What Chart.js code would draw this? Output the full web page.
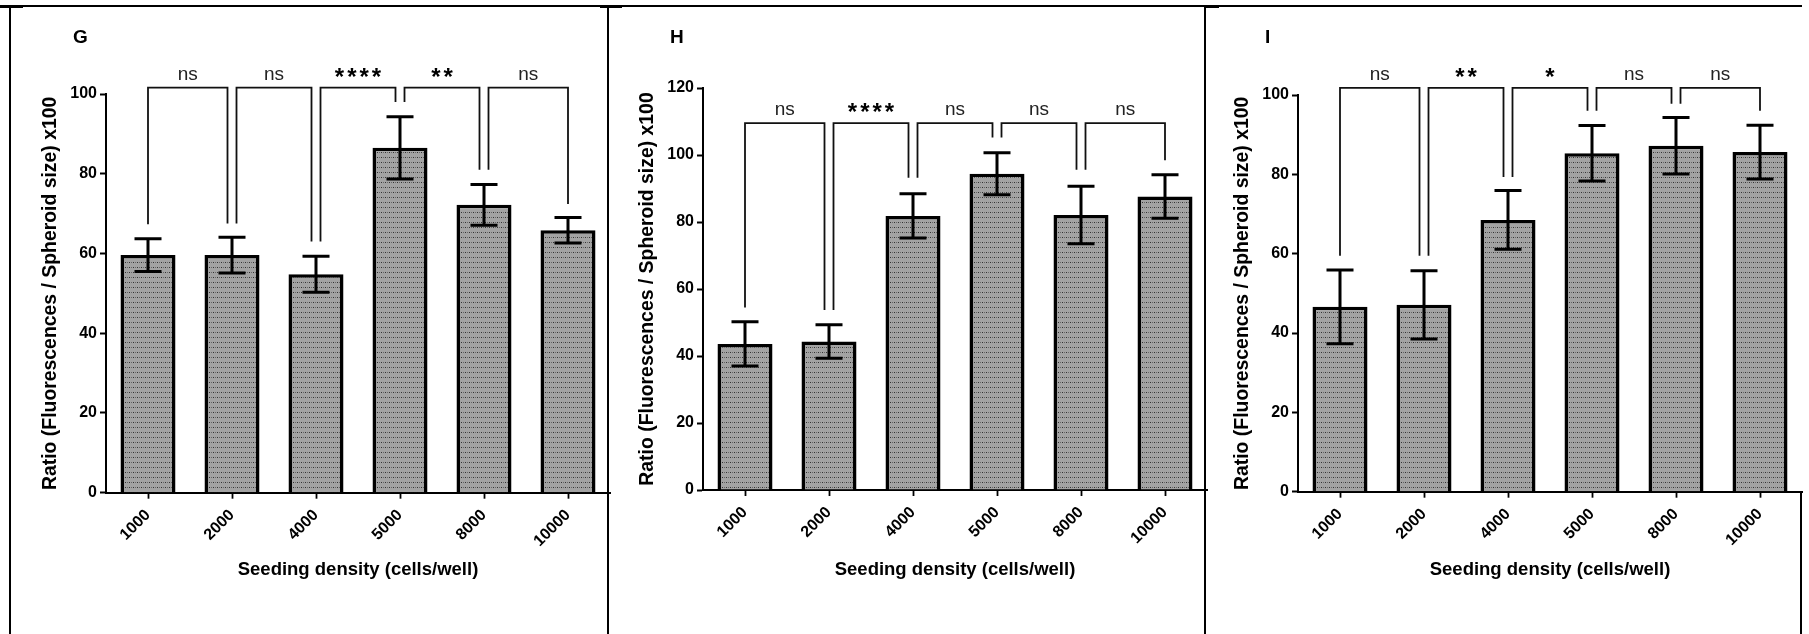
<!DOCTYPE html>
<html>
<head>
<meta charset="utf-8">
<script src="https://cdn.jsdelivr.net/npm/chart.js@4.4.1/dist/chart.umd.min.js"></script>
<style>
html, body { margin: 0; padding: 0; background: #fff; }
body { width: 1809px; height: 634px; position: relative; overflow: hidden; }
canvas { position: absolute; top: 0; }
.ln { position: absolute; background: #000; }
</style>
</head>
<body>
<!-- panel frames -->
<div class="ln" style="left:10px;top:5px;width:1792px;height:1.5px"></div>
<div class="ln" style="left:0px;top:5px;width:23px;height:2.5px"></div>
<div class="ln" style="left:600px;top:5px;width:22px;height:2.5px"></div>
<div class="ln" style="left:1205px;top:5px;width:14px;height:2.5px"></div>
<div class="ln" style="left:9px;top:5px;width:2px;height:629px"></div>
<div class="ln" style="left:607px;top:5px;width:2px;height:629px"></div>
<div class="ln" style="left:1204px;top:5px;width:2px;height:629px"></div>
<div class="ln" style="left:1800px;top:492px;width:1.5px;height:142px"></div>

<canvas id="chartG" style="left:0px" width="612" height="634"></canvas>
<canvas id="chartH" style="left:597px" width="612" height="634"></canvas>
<canvas id="chartI" style="left:1192px" width="612" height="634"></canvas>

<script>
const densities = ['1000', '2000', '4000', '5000', '8000', '10000'];

// panel G
const meansG = [59.6, 59.6, 54.8, 86.5, 72.2, 65.8];
const errG = [4.1, 4.5, 4.5, 7.8, 5.1, 3.2];
const legsG = [67.3, 67.5, 63, 98, 81, 72.4];
const sigG = ['ns', 'ns', '****', '**', 'ns'];
const bracketG = 101.6;
const yMaxG = 100;

// panel H
const meansH = [43.6, 44.3, 81.8, 94.4, 82.1, 87.6];
const errH = [6.6, 5.0, 6.6, 6.3, 8.6, 6.5];
const legsH = [54.5, 53.7, 93.2, 105.2, 95.6, 98.4];
const sigH = ['ns', '****', 'ns', 'ns', 'ns'];
const bracketH = 109.5;
const yMaxH = 120;

// panel I
const meansI = [46.6, 47.1, 68.5, 85.3, 87.2, 85.6];
const errI = [9.3, 8.6, 7.4, 7.0, 7.1, 6.8];
const legsI = [59.5, 59.5, 79.3, 96, 97.8, 96];
const sigI = ['ns', '**', '*', 'ns', 'ns'];
const bracketI = 101.8;
const yMaxI = 100;

const yStep = 20;
const FONT = "'Liberation Sans', Arial, sans-serif";

function dotPattern(){ // grey fill with small dark dots, like the printed bars
    const tile = document.createElement('canvas');
    tile.width = 4;
    tile.height = 5;
    const g = tile.getContext('2d');
    g.fillStyle = '#a3a3a3';
    g.fillRect(0, 0, 4, 5);
    g.fillStyle = '#333';
    g.fillRect(1, 2, 1, 1);
    g.fillStyle = '#666';
    g.fillRect(3, 2, 1, 1);
    return g.createPattern(tile, 'repeat');
}

const extras = {
    id: 'extras',
    afterDatasetsDraw(chart, args, opts){
        const ctx = chart.ctx;
        const xs = chart.scales.x, ys = chart.scales.y;
        ctx.save();

        // error bars (mean +/- SD)
        ctx.strokeStyle = '#000';
        ctx.lineWidth = 3;
        opts.means.forEach((m, i) => {
            const cx = xs.getPixelForValue(i);
            const t = ys.getPixelForValue(m + opts.errs[i]);
            const b = ys.getPixelForValue(m - opts.errs[i]);
            ctx.beginPath();
            ctx.moveTo(cx, t); ctx.lineTo(cx, b);
            ctx.moveTo(cx - 13.5, t); ctx.lineTo(cx + 13.5, t);
            ctx.moveTo(cx - 13.5, b); ctx.lineTo(cx + 13.5, b);
            ctx.stroke();
        });

        // significance brackets between neighbours
        const yb = ys.getPixelForValue(opts.bracket);
        ctx.lineWidth = 1.8;
        ctx.strokeStyle = '#111';
        ctx.textAlign = 'center';
        ctx.textBaseline = 'alphabetic';
        opts.sig.forEach((s, i) => {
            const n = opts.means.length;
            const xl = xs.getPixelForValue(i) + (i > 0 ? 4.5 : 0);
            const xr = xs.getPixelForValue(i + 1) - (i + 1 < n - 1 ? 4.5 : 0);
            ctx.beginPath();
            ctx.moveTo(xl, ys.getPixelForValue(opts.legs[i]));
            ctx.lineTo(xl, yb);
            ctx.lineTo(xr, yb);
            ctx.lineTo(xr, ys.getPixelForValue(opts.legs[i + 1]));
            ctx.stroke();
            if(s === 'ns'){
                ctx.letterSpacing = '0px';
                ctx.font = '19px ' + FONT;
                ctx.fillStyle = '#222';
                ctx.fillText(s, (xl + xr) / 2, yb - 8);
            }else{
                ctx.letterSpacing = '3px';
                ctx.font = 'bold 24px ' + FONT;
                ctx.fillStyle = '#000';
                ctx.fillText(s, (xl + xr) / 2 + 1.5, yb - 3);
            }
        });

        // panel letter
        ctx.letterSpacing = '0px';
        ctx.font = 'bold 19px ' + FONT;
        ctx.fillStyle = '#000';
        ctx.textAlign = 'left';
        ctx.fillText(opts.letter, chart.chartArea.left - 33, 43);
        ctx.restore();
    }
};

function makePanel(id, letter, means, errs, legs, sig, bracket, yMax, top, bottom){
    const CTX = document.getElementById(id).getContext('2d');
    const CONFIG = {
        type: 'bar',
        data: {
            labels: densities,
            datasets: [{
                data: means,
                backgroundColor: dotPattern(),
                borderColor: '#000',
                borderWidth: 3.5,
                categoryPercentage: 1,
                barPercentage: 0.655
            }]
        },
        options: {
            responsive: false,
            animation: false,
            events: [],
            layout: { padding: { top: top, left: 0, right: 2, bottom: 40 } },
            plugins: {
                legend: { display: false },
                tooltip: { enabled: false },
                extras: { letter: letter, means: means, errs: errs, legs: legs, sig: sig, bracket: bracket }
            },
            scales: {
                x: {
                    offset: true,
                    grid: { display: true, drawOnChartArea: false, offset: false, tickLength: 6, tickWidth: 1.8, tickColor: '#000' },
                    border: { display: true, color: '#000', width: 2 },
                    ticks: { color: '#000', font: { family: FONT, size: 16, weight: 'bold' }, minRotation: 45, maxRotation: 45, padding: 7 },
                    title: { display: true, text: 'Seeding density (cells/well)', color: '#000',
                             font: { family: FONT, size: 18.5, weight: 'bold' }, padding: { top: 0, bottom: 12.9 } },
                    afterFit: function(scale){ scale.height = 634 - 40 - bottom; }
                },
                y: {
                    min: 0,
                    max: yMax,
                    grid: { display: true, drawOnChartArea: false, tickLength: 6, tickWidth: 2, tickColor: '#000' },
                    border: { display: true, color: '#000', width: 2 },
                    ticks: { stepSize: yStep, color: '#000', font: { family: FONT, size: 16, weight: 'bold' }, padding: 3 },
                    title: { display: true, text: 'Ratio (Fluorescences / Spheroid size) x100', color: '#000',
                             font: { family: FONT, size: 19.4, weight: 'bold' }, padding: { top: 39.5, bottom: 0 } },
                    afterFit: function(scale){ scale.width = 106; }
                }
            }
        },
        plugins: [extras]
    };
    return new Chart(CTX, CONFIG);
}

makePanel('chartG', 'G', meansG, errG, legsG, sigG, bracketG, yMaxG, 94, 492.7);
makePanel('chartH', 'H', meansH, errH, legsH, sigH, bracketH, yMaxH, 88, 490);
makePanel('chartI', 'I', meansI, errI, legsI, sigI, bracketI, yMaxI, 95, 491.7);
</script>
</body>
</html>
